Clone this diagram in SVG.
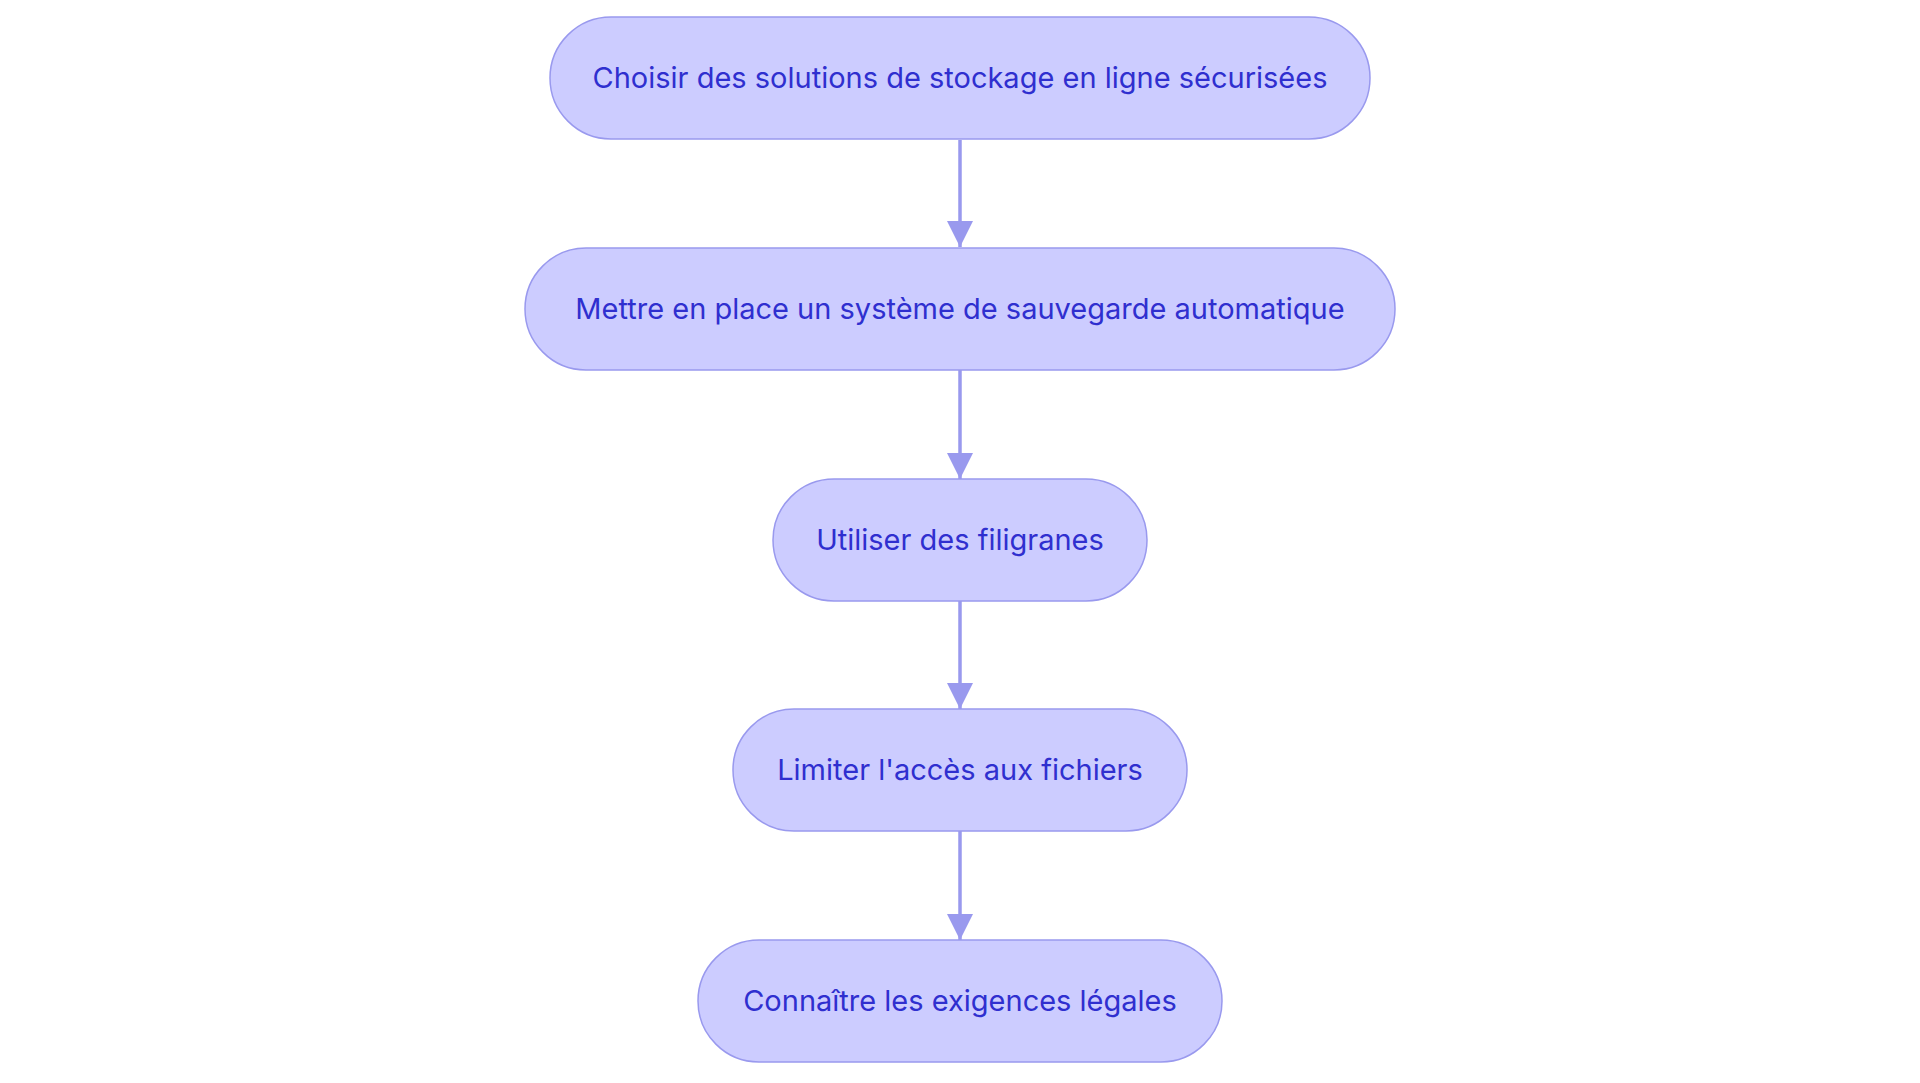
<svg xmlns="http://www.w3.org/2000/svg" width="1920" height="1083" viewBox="0 0 1920 1083">
<style>
.n{fill:#ccccff;stroke:#9999ee;stroke-width:1.5}
.t{font-family:Inter,"Liberation Sans",sans-serif;font-size:29px;fill:#2f2fcf;text-anchor:middle;dominant-baseline:central}
.c{stroke:#9999ee;stroke-width:3.5;fill:none;marker-end:url(#a)}
</style>
<defs><marker id="a" viewBox="0 0 10 10" refX="10" refY="5" markerWidth="7.5" markerHeight="7.5" markerUnits="strokeWidth" orient="auto"><path d="M0,0L10,5L0,10z" fill="#9999ee"/></marker></defs>
<rect width="1920" height="1083" fill="#fff"/>
<g id="connectors">
<path class="c" d="M960,140V247"/>
<path class="c" d="M960,370V479"/>
<path class="c" d="M960,601V709"/>
<path class="c" d="M960,831V940"/>
</g>
<g id="n1"><rect class="n" x="550" y="17" width="820" height="122" rx="61"/><text class="t" x="960" y="77">Choisir des solutions de stockage en ligne sécurisées</text></g>
<g id="n2"><rect class="n" x="525" y="248" width="870" height="122" rx="61"/><text class="t" x="960" y="308">Mettre en place un système de sauvegarde automatique</text></g>
<g id="n3"><rect class="n" x="773" y="479" width="374" height="122" rx="61"/><text class="t" x="960" y="539">Utiliser des filigranes</text></g>
<g id="n4"><rect class="n" x="733" y="709" width="454" height="122" rx="61"/><text class="t" x="960" y="769">Limiter l'accès aux fichiers</text></g>
<g id="n5"><rect class="n" x="698" y="940" width="524" height="122" rx="61"/><text class="t" x="960" y="1000">Connaître les exigences légales</text></g>
</svg>
